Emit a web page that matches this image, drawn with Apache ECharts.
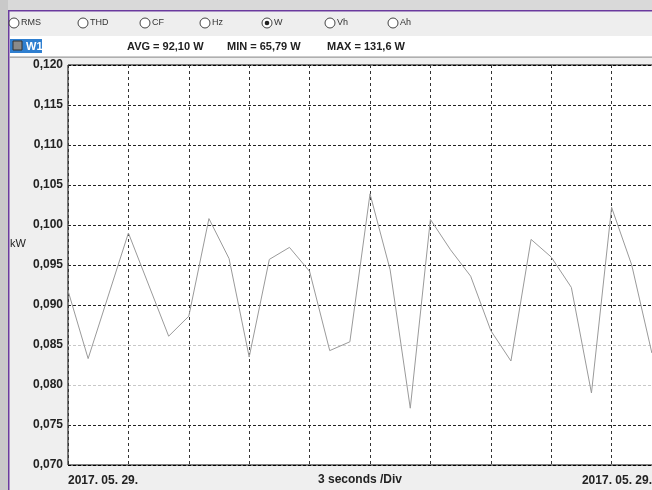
<!DOCTYPE html>
<html>
<head>
<meta charset="utf-8">
<script src="https://cdn.jsdelivr.net/npm/echarts@6/dist/echarts.min.js"></script>
<style>
html,body{margin:0;padding:0;background:#efefef;}
#chart{width:652px;height:490px;}
</style>
</head>
<body>
<div id="chart"></div>
<script>
// time in seconds from the left edge of the trace
var seconds = [0, 1, 3, 5, 6, 7, 8, 9, 10, 11, 12, 13, 14, 15, 16, 17, 18, 19, 20, 21, 22, 23, 24, 25, 26, 27, 28, 29];
// power in kW
var powerKW = [0.0918, 0.0833, 0.0990, 0.0861, 0.0886, 0.1008, 0.0958, 0.0835, 0.0957, 0.0972, 0.0942, 0.0843, 0.0854, 0.1039,
  0.0944, 0.0771, 0.1007, 0.0969, 0.0936, 0.0868, 0.0830, 0.0982, 0.0960, 0.0922, 0.0790, 0.1022, 0.0950, 0.0840];
var radioLabels = ['RMS', 'THD', 'CF', 'Hz', 'W', 'Vh', 'Ah'];
var selectedRadio = 'W';
var statLabels = ['AVG = 92,10 W', 'MIN = 65,79 W', 'MAX = 131,6 W'];
var seriesName = 'W1';
var yUnit = 'kW';
var dateLabel = '2017. 05. 29.';
var divLabel = '3 seconds /Div';

var narrow = "'Liberation Sans Narrow','Liberation Sans',sans-serif";

var data = seconds.map(function (s, i) { return [s, powerKW[i]]; });

var graphics = [];
graphics.push({type:'rect', shape:{x:0,y:0,width:652,height:10}, style:{fill:'#d9d9d9'}, silent:true, z:-10});
graphics.push({type:'rect', shape:{x:0,y:0,width:8,height:490}, style:{fill:'#c9c9c9'}, silent:true, z:-10});
graphics.push({type:'rect', shape:{x:8,y:10,width:644,height:1.5}, style:{fill:'#6a3a9e'}, silent:true});
graphics.push({type:'rect', shape:{x:8,y:10,width:1.5,height:480}, style:{fill:'#6a3a9e'}, silent:true});
graphics.push({type:'rect', shape:{x:9.5,y:11.5,width:643,height:24}, style:{fill:'#eeeeee'}, silent:true, z:-5});
graphics.push({type:'rect', shape:{x:9.5,y:36,width:643,height:21}, style:{fill:'#ffffff'}, silent:true, z:-5});
graphics.push({type:'rect', shape:{x:9.5,y:56.5,width:643,height:1.2}, style:{fill:'#9a9a9a'}, silent:true});

var radioX = [9, 78, 140, 200, 262, 325, 388];
radioLabels.forEach(function (lab, i) {
  var cx = radioX[i] + 5;
  graphics.push({type:'circle', shape:{cx:cx,cy:23,r:5}, style:{fill:'#fff',stroke:'#444',lineWidth:1}, silent:true});
  if (lab === selectedRadio) {
    graphics.push({type:'circle', shape:{cx:cx,cy:23,r:2.3}, style:{fill:'#222'}, silent:true});
  }
  graphics.push({type:'text', x:cx+7, y:23, style:{text:lab, fill:'#333', font:"9px 'Liberation Sans',sans-serif", verticalAlign:'middle', align:'left'}, silent:true});
});

graphics.push({type:'rect', shape:{x:10,y:39,width:32,height:14}, style:{fill:'#2f7fd0'}, silent:true});
graphics.push({type:'rect', shape:{x:13,y:41,width:9,height:9}, style:{fill:'#8a8a8a',stroke:'#333',lineWidth:1}, silent:true});
graphics.push({type:'text', x:26, y:46.5, style:{text:seriesName, fill:'#fff', font:"bold 11px "+narrow, verticalAlign:'middle'}, silent:true});
var statX = [127, 227, 327];
statLabels.forEach(function (s, i) {
  graphics.push({type:'text', x:statX[i], y:46.5, style:{text:s, fill:'#222', font:"bold 11px "+narrow, verticalAlign:'middle'}, silent:true});
});
graphics.push({type:'text', x:10, y:244, style:{text:yUnit, fill:'#222', font:"11px 'Liberation Sans',sans-serif", verticalAlign:'middle'}, silent:true});
graphics.push({type:'text', x:68, y:481, style:{text:dateLabel, fill:'#222', font:"bold 12px "+narrow, verticalAlign:'middle', align:'left'}, silent:true});
graphics.push({type:'text', x:652, y:481, style:{text:dateLabel, fill:'#222', font:"bold 12px "+narrow, verticalAlign:'middle', align:'right'}, silent:true});

var splitColors = ['#000','#222','#c8c8c8','#c8c8c8','#222','#222','#222','#222','#222','#222','#000'];

var chart = echarts.init(document.getElementById('chart'), null, {renderer:'canvas'});
chart.setOption({
  backgroundColor: '#efefef',
  animation: false,
  graphic: graphics,
  grid: {left:68, top:65, right:-20, bottom:25, outerBoundsMode:'none', containLabel:false,
         show:true, backgroundColor:'#ffffff', borderColor:'#000', borderWidth:1},
  xAxis: {
    type:'value', min:0, max:30, interval:3,
    axisLine:{show:false}, axisTick:{show:false}, axisLabel:{show:false},
    splitLine:{show:true, lineStyle:{color:'#333', width:1, type:[3,3]}},
    name: divLabel, nameLocation:'middle', nameGap:9,
    nameTextStyle:{fontFamily:narrow, fontWeight:'bold', fontSize:12, color:'#222', padding:[0,0,0,-20]}
  },
  yAxis: {
    type:'value', min:0.070, max:0.120, interval:0.005,
    axisLine:{show:false}, axisTick:{show:false},
    axisLabel:{
      formatter:function (v) { return v.toFixed(3).replace('.', ','); },
      fontFamily:narrow, fontWeight:'bold', fontSize:12, color:'#222', margin:5
    },
    splitLine:{show:true, lineStyle:{color:splitColors, width:1, type:[3,2]}}
  },
  series: [{
    type:'line', data:data, showSymbol:false, symbol:'none',
    lineStyle:{color:'#9a9a9a', width:1}, z:5
  }]
});
</script>
</body>
</html>
